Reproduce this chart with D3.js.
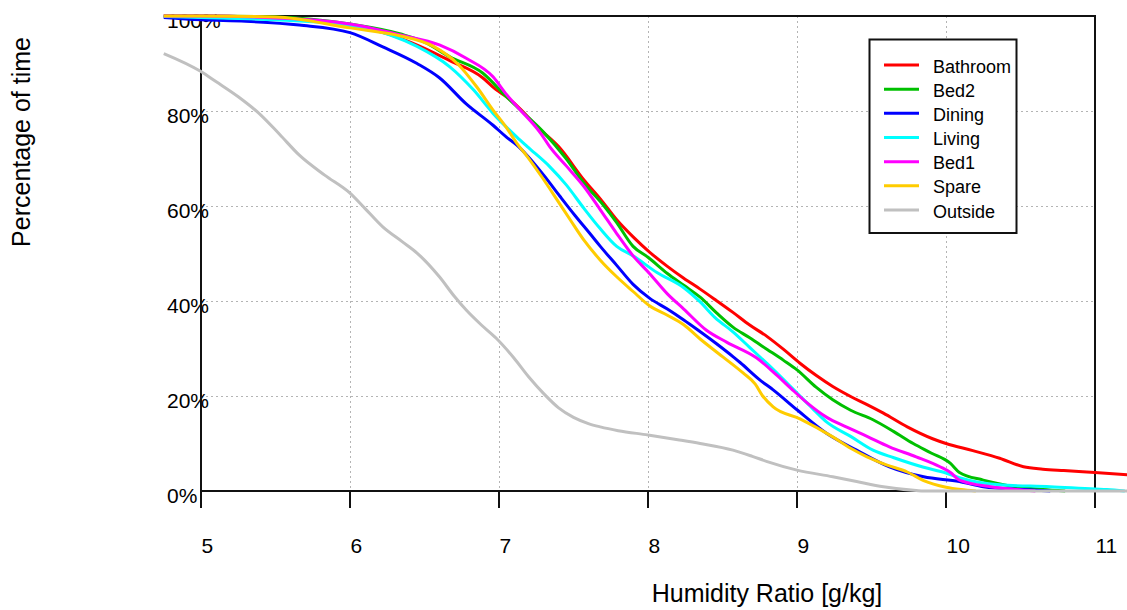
<!DOCTYPE html>
<html>
<head>
<meta charset="utf-8">
<script src="https://cdn.jsdelivr.net/npm/d3@7"></script>
<style>
  html, body { margin: 0; padding: 0; background: #fff; }
  svg { display: block; font-family: "Liberation Sans", Arial, sans-serif; }
</style>
</head>
<body>
<svg id="chart" width="1127" height="610"></svg>
<script>
// ---- Data (humidity ratio g/kg, percentage of time exceeded) ----
const seriesNames = ["Bathroom", "Bed2", "Dining", "Living", "Bed1", "Spare", "Outside"];
const seriesColors = ["#ff0000", "#00c000", "#0000ff", "#00ffff", "#ff00ff", "#ffcc00", "#c0c0c0"];
const xTicks = [5, 6, 7, 8, 9, 10, 11];
const yTicks = [0, 20, 40, 60, 80, 100];
const yTickLabels = ["0%", "20%", "40%", "60%", "80%", "100%"];

const bathroom = [[4.75,100],[5.0,100],[5.5,99.6],[5.8,98.8],[6.0,98.0],[6.2,96.7],[6.34,95.3],[6.5,93.2],[6.67,90.6],[6.89,87.0],[6.98,84.5],[7.05,83],[7.15,80.2],[7.23,77.5],[7.28,76],[7.4,72.5],[7.57,65.5],[7.68,61.5],[7.79,57.1],[7.9,53.5],[8.01,50.3],[8.13,47.3],[8.24,44.8],[8.35,42.5],[8.45,40.3],[8.57,37.6],[8.68,35.0],[8.80,32.5],[8.91,29.8],[9.02,26.9],[9.13,24.3],[9.24,22.0],[9.36,19.9],[9.47,18.2],[9.58,16.4],[9.74,13.5],[9.91,11.0],[10.0,10.0],[10.18,8.5],[10.36,6.9],[10.52,5.1],[10.65,4.6],[10.79,4.3],[11.0,3.9],[11.22,3.4]];
const bed2 = [[4.75,100],[5.0,100],[5.5,99.8],[6.0,98.3],[6.34,96.2],[6.5,94.5],[6.67,91.4],[6.89,88],[7.05,83],[7.15,80],[7.3,75.5],[7.45,70],[7.57,64.8],[7.7,60.2],[7.79,56.5],[7.9,51.5],[8.0,49.2],[8.13,45.8],[8.24,43.3],[8.35,40.8],[8.46,37.5],[8.57,34.5],[8.68,32.3],[8.8,29.8],[8.91,27.5],[9.0,25.5],[9.13,21.8],[9.24,19.2],[9.36,17.0],[9.51,15.0],[9.65,12.5],[9.78,10.0],[9.9,8.0],[10.03,5.8],[10.09,3.9],[10.25,2.3],[10.47,0.9],[10.65,0.3],[10.8,0]];
const dining = [[4.75,99.7],[5.0,99.2],[5.3,98.9],[5.66,98.1],[6.0,96.5],[6.22,93.5],[6.45,90.0],[6.6,87],[6.78,81.5],[6.96,77],[7.05,74.5],[7.12,72.8],[7.19,70.6],[7.3,66.5],[7.41,62],[7.51,58],[7.61,54.2],[7.68,51.5],[7.79,47.5],[7.9,43.5],[8.01,40.6],[8.13,38.3],[8.24,36],[8.33,34],[8.46,31],[8.57,28.3],[8.62,27],[8.75,23.4],[8.84,21.3],[9.0,17.1],[9.2,12.1],[9.4,8.6],[9.62,5.1],[9.85,3.0],[10.09,2.0],[10.25,0.9],[10.52,0.3],[10.7,0]];
const living = [[4.75,99.9],[5.0,99.7],[5.5,99.2],[6.0,98.0],[6.27,96],[6.45,93.6],[6.67,89.3],[6.83,84.4],[6.96,79.5],[7.12,74.5],[7.19,72.5],[7.34,68.3],[7.45,64.5],[7.57,59.5],[7.68,55.2],[7.79,51.5],[7.9,49.5],[8.06,46],[8.24,42.8],[8.35,39.8],[8.45,36.5],[8.57,33.5],[8.68,30.3],[8.8,26.8],[8.95,22.2],[9.02,20.0],[9.1,17.5],[9.2,14.5],[9.36,11.5],[9.51,8.6],[9.65,7.0],[9.85,5.0],[10.0,3.8],[10.09,2.8],[10.36,1.3],[10.70,0.9],[11.0,0.4],[11.08,0.3],[11.2,0]];
const bed1 = [[4.75,100],[5.0,100],[5.5,99.6],[6.0,98.3],[6.34,96.0],[6.6,93.9],[6.78,91.1],[6.96,87.2],[7.05,83.5],[7.12,81],[7.28,75.3],[7.34,72.5],[7.45,68.5],[7.57,64.1],[7.68,59.2],[7.79,54.2],[7.9,49.5],[8.01,45.8],[8.13,41.5],[8.24,38.3],[8.39,33.9],[8.53,31.3],[8.73,28.0],[8.86,24.5],[8.98,21],[9.07,18.5],[9.2,15.5],[9.33,13.5],[9.47,11.5],[9.62,9.3],[9.8,7.2],[9.96,5.1],[10.03,3.9],[10.09,2.3],[10.3,0.9],[10.47,0.3],[10.6,0]];
const spare = [[4.75,100],[5.0,100],[5.5,99.8],[6.0,97.5],[6.11,97],[6.34,95.8],[6.56,93.6],[6.72,90.0],[6.85,85.1],[6.96,80.2],[7.05,76.5],[7.12,73.2],[7.19,70.4],[7.29,66],[7.39,61.3],[7.48,57],[7.57,52.8],[7.68,48.6],[7.79,45.1],[7.9,42],[8.01,39.0],[8.13,37.0],[8.24,35.0],[8.35,32.0],[8.5,28.3],[8.64,24.8],[8.72,22.5],[8.77,20.0],[8.84,17.7],[9.02,15.2],[9.24,11.4],[9.36,9.0],[9.47,7.2],[9.6,5.5],[9.74,4.0],[9.85,2.2],[10.0,0.8],[10.1,0.3],[10.2,0]];
const outside = [[4.75,92.1],[5.0,88.3],[5.1,86.2],[5.25,83],[5.4,79.2],[5.53,75],[5.66,70.7],[5.83,66.5],[6.0,62.7],[6.1,59.5],[6.22,55.6],[6.35,52.5],[6.45,50.1],[6.6,45.1],[6.7,41],[6.78,38.1],[6.88,35],[6.98,32.2],[7.1,28],[7.2,24],[7.3,20.5],[7.4,17.5],[7.5,15.5],[7.6,14.2],[7.68,13.5],[7.8,12.7],[8.0,11.8],[8.2,10.8],[8.35,10.0],[8.57,8.6],[8.7,7.3],[8.8,6.2],[9.0,4.4],[9.24,3.0],[9.4,2.0],[9.58,0.9],[9.8,0.1],[9.85,0],[11.22,0]];

const seriesData = [bathroom, bed2, dining, living, bed1, spare, outside];

(function () {
// ---- Layout ----
const svg = d3.select("#chart");
const pL = 201, pR = 1095, pT = 16, pB = 491;
const x = d3.scaleLinear().domain([5, 11]).range([pL, pR]);
const y = d3.scaleLinear().domain([0, 100]).range([pB, pT]);

// Grid
const grid = svg.append("g").attr("stroke", "#b4b4b4").attr("stroke-width", 1).attr("stroke-dasharray", "2,3");
grid.selectAll("line.h").data(yTicks.filter(d => d > 0 && d < 100)).join("line").attr("class", "h")
  .attr("x1", pL).attr("x2", pR).attr("y1", d => Math.round(y(d)) + 0.5).attr("y2", d => Math.round(y(d)) + 0.5);
grid.selectAll("line.v").data(xTicks.filter(d => d > 5 && d < 11)).join("line").attr("class", "v")
  .attr("y1", pT).attr("y2", pB).attr("x1", d => Math.round(x(d)) + 0.5).attr("x2", d => Math.round(x(d)) + 0.5);

// Y tick labels (left aligned, overlapping the axis)
svg.append("g").selectAll("text").data(yTicks).join("text")
  .attr("x", 167).attr("y", d => y(d) + 11.5)
  .attr("font-size", 21).attr("fill", "#000")
  .text((d, i) => yTickLabels[i]);

// X tick labels
svg.append("g").selectAll("text").data(xTicks).join("text")
  .attr("x", d => x(d) + 0.5).attr("y", 553)
  .attr("font-size", 21).attr("fill", "#000")
  .text(d => d);

// Frame and ticks
svg.append("rect").attr("x", pL).attr("y", pT).attr("width", pR - pL).attr("height", pB - pT)
  .attr("fill", "none").attr("stroke", "#111").attr("stroke-width", 2);
svg.append("g").selectAll("line").data(xTicks).join("line")
  .attr("x1", d => x(d)).attr("x2", d => x(d)).attr("y1", pB).attr("y2", pB + 17)
  .attr("stroke", "#111").attr("stroke-width", 2);

// Curves
const line = d3.line().x(d => x(d[0])).y(d => y(d[1])).curve(d3.curveMonotoneX);
svg.append("g").selectAll("path").data(seriesData).join("path")
  .attr("d", d => line(d)).attr("fill", "none")
  .attr("stroke", (d, i) => seriesColors[i]).attr("stroke-width", 3)
  .attr("stroke-linejoin", "round").attr("stroke-linecap", "butt");

// Axis titles
svg.append("text").attr("transform", "translate(29.5,142) rotate(-90)")
  .attr("text-anchor", "middle").attr("font-size", 25).attr("fill", "#000").text("Percentage of time");
svg.append("text").attr("x", 767).attr("y", 602)
  .attr("text-anchor", "middle").attr("font-size", 25).attr("fill", "#000").text("Humidity Ratio [g/kg]");

// Legend
const lg = svg.append("g");
lg.append("rect").attr("x", 869.5).attr("y", 39.5).attr("width", 147).attr("height", 193.5)
  .attr("fill", "#fff").attr("stroke", "#111").attr("stroke-width", 2);
const rowY = d3.scaleLinear().domain([0, 6]).range([65, 210]);
const items = lg.selectAll("g").data(seriesNames).join("g").attr("transform", (d, i) => `translate(0,${rowY(i)})`);
items.append("line").attr("x1", 884).attr("x2", 919).attr("y1", 0).attr("y2", 0)
  .attr("stroke", (d, i) => seriesColors[i]).attr("stroke-width", 3);
items.append("text").attr("x", 933).attr("y", 7.5).attr("font-size", 18).attr("fill", "#000").text(d => d);
})();
</script>
</body>
</html>
